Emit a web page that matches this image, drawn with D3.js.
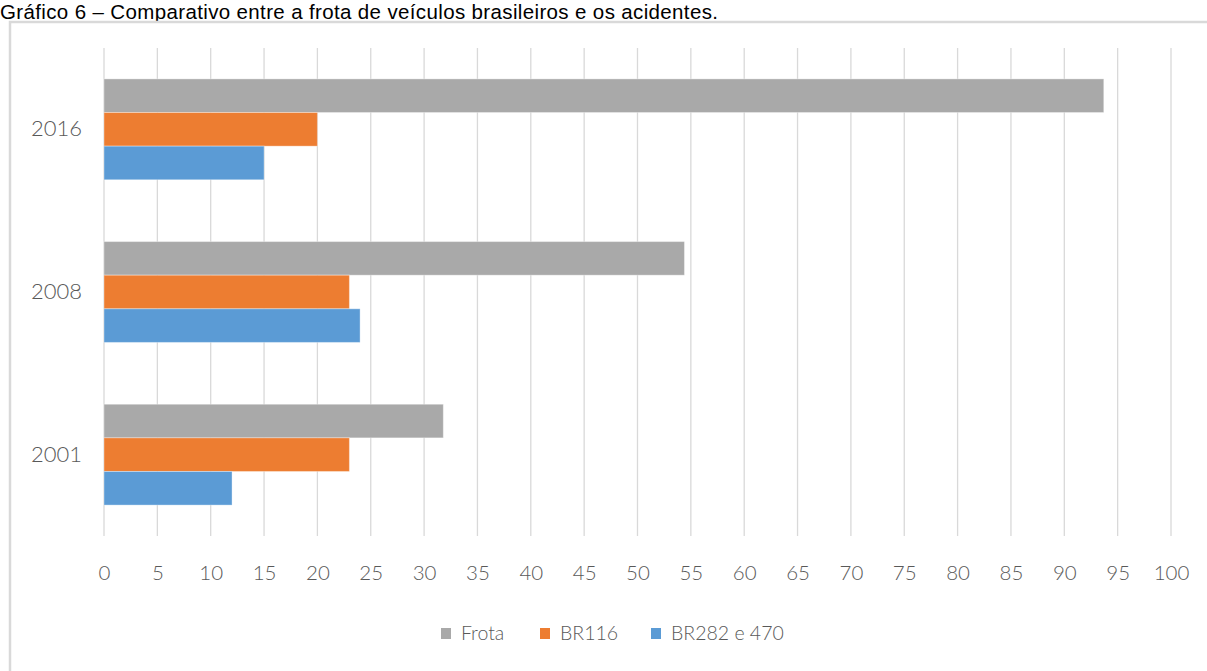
<!DOCTYPE html>
<html>
<head>
<meta charset="utf-8">
<script src="https://cdn.jsdelivr.net/npm/d3@7"></script>
<style>
  html, body { margin: 0; padding: 0; background: #fff; }
  svg { display: block; }
</style>
</head>
<body>
<script>
// Anos (de cima para baixo) e séries
const years = ["2016", "2008", "2001"];
const seriesNames = ["Frota", "BR116", "BR282 e 470"];
const frota = [93.7, 54.4, 31.8];
const br116 = [20, 23, 23];
const br282 = [15, 24, 12];
const xTicks = d3.range(0, 101, 5);
const colors = ["#A9A9A9", "#ED7D31", "#5B9BD5"];

const W = 1207, H = 671;
const svg = d3.select("body").append("svg").attr("width", W).attr("height", H);

// Título
svg.append("text")
  .attr("x", 0).attr("y", 19)
  .attr("font-family", "Liberation Sans, Arial, sans-serif")
  .attr("font-size", 20.5)
  .attr("textLength", 718)
  .attr("lengthAdjust", "spacing")
  .attr("fill", "#000")
  .text("Gráfico 6 – Comparativo entre a frota de veículos brasileiros e os acidentes.");

// Moldura do gráfico
svg.append("rect")
  .attr("x", 10).attr("y", 22)
  .attr("width", W + 10).attr("height", H)
  .attr("fill", "none")
  .attr("stroke", "#d9d9d9")
  .attr("stroke-width", 2.5);

const plot = { left: 104, right: 1171, top: 48, bottom: 536 };

const x = d3.scaleLinear().domain([0, 100]).range([plot.left, plot.right]);
const y = d3.scaleBand().domain(years).range([plot.top, plot.bottom]).paddingInner(0.38).paddingOuter(0.19);
const ySub = d3.scaleBand().domain(seriesNames).range([0, y.bandwidth()]);

// Linhas de grade verticais
svg.append("g")
  .selectAll("line")
  .data(xTicks)
  .join("line")
  .attr("x1", d => x(d)).attr("x2", d => x(d))
  .attr("y1", plot.top).attr("y2", plot.bottom)
  .attr("stroke", "#d9d9d9")
  .attr("stroke-width", 1.3);

// Eixo X
const xAxis = svg.append("g")
  .attr("transform", `translate(0,${plot.bottom})`)
  .call(d3.axisBottom(x).tickValues(xTicks).tickSize(0).tickPadding(29));
xAxis.select(".domain").remove();
xAxis.selectAll("text")
  .attr("font-family", "Lato, sans-serif")
  .attr("font-weight", 300)
  .attr("font-size", 20.5)
  .attr("fill", "#595959");

// Eixo Y
const yAxis = svg.append("g")
  .attr("transform", `translate(${plot.left},0)`)
  .call(d3.axisLeft(y).tickSize(0).tickPadding(22));
yAxis.select(".domain").remove();
yAxis.selectAll("text")
  .attr("font-family", "Lato, sans-serif")
  .attr("font-weight", 300)
  .attr("font-size", 22)
  .attr("fill", "#595959");

// Barras
const seriesValues = [frota, br116, br282];
const rows = [];
years.forEach((yr, i) => {
  seriesNames.forEach((s, j) => rows.push({ year: yr, series: s, value: seriesValues[j][i], color: colors[j] }));
});

svg.append("g")
  .selectAll("rect")
  .data(rows)
  .join("rect")
  .attr("x", x(0))
  .attr("y", d => y(d.year) + ySub(d.series))
  .attr("width", d => x(d.value) - x(0))
  .attr("height", ySub.bandwidth())
  .attr("fill", d => d.color)
  .attr("stroke", "rgba(255,255,255,0.35)")
  .attr("stroke-width", 1);

// Legenda
const legendItems = [
  { name: "Frota", color: colors[0], x: 441 },
  { name: "BR116", color: colors[1], x: 540 },
  { name: "BR282 e 470", color: colors[2], x: 651 }
];
const leg = svg.append("g").selectAll("g").data(legendItems).join("g")
  .attr("transform", d => `translate(${d.x},633)`);
leg.append("rect")
  .attr("x", 0).attr("y", -5).attr("width", 10).attr("height", 11)
  .attr("fill", d => d.color);
leg.append("text")
  .attr("x", 20).attr("y", 7)
  .attr("font-family", "Lato, sans-serif")
  .attr("font-weight", 300)
  .attr("font-size", 19.5)
  .attr("fill", "#595959")
  .text(d => d.name);
</script>
</body>
</html>
